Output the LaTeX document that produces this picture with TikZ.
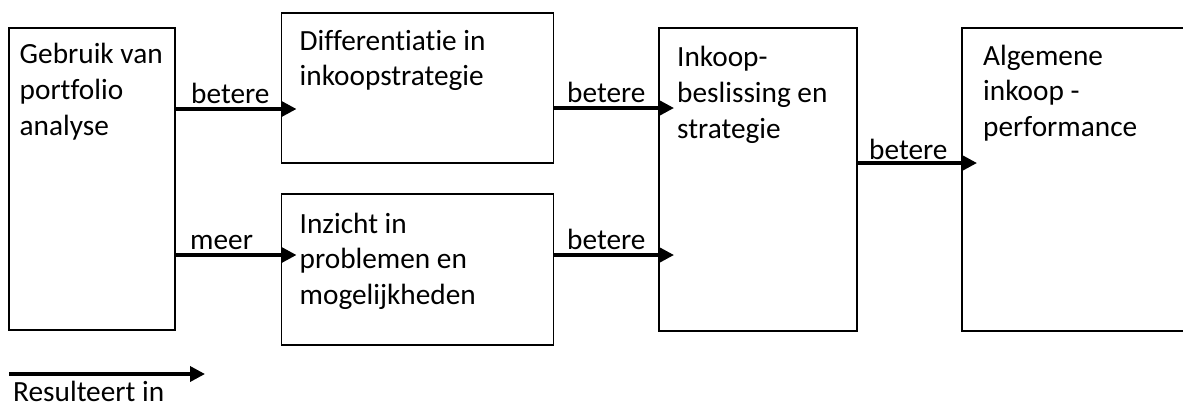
\documentclass[tikz,border=0pt]{standalone}
\usepackage{fontspec}
\setmainfont{Carlito}[Ligatures=NoCommon]
\usetikzlibrary{arrows.meta,calc}
\begin{document}
\begin{tikzpicture}[x=1pt,y=-1pt,
  box/.style={draw, line width=1.5pt, inner sep=0pt, outer sep=0pt, anchor=north west},
  txt/.style={font=\fontsize{29.3}{35.8}\selectfont, align=left, inner sep=0pt, anchor=base west},
  lbl/.style={font=\fontsize{29.3}{35.8}\selectfont, inner sep=0pt, anchor=base west},
  arr/.style={line width=3.5pt, -{Triangle[length=15pt,width=15pt]}}]
\useasboundingbox (0,0) rectangle (1183,405);
% boxes
\node[box, minimum width=166pt, minimum height=302pt] (b1) at (9,28) {};
\node[box, minimum width=272pt, minimum height=150pt] (b2) at (281.5,13) {};
\node[box, minimum width=272pt, minimum height=151pt] (b3) at (281.5,194) {};
\node[box, minimum width=198pt, minimum height=303pt] (b4) at (659,28) {};
\node[box, minimum width=260pt, minimum height=303pt] (b5) at (962,28) {};
% box texts (base anchor = baseline of the last line)
\node[txt] (t1) at ($(b1.north west)+(10.5,107)$) {Gebruik van\\portfolio\\analyse};
\node[txt] (t2) at ($(b2.north west)+(18,72.8)$) {Differentiatie in\\inkoopstrategie};
\node[txt] (t3) at ($(b3.north west)+(18,110.6)$) {Inzicht in\\problemen en\\mogelijkheden};
\node[txt] (t4) at ($(b4.north west)+(18,110.3)$) {Inkoop-\\beslissing en\\strategie};
\node[txt] (t5) at ($(b5.north west)+(21,108.6)$) {Algemene\\inkoop -\\performance};
% arrow end coordinates
\coordinate (e2) at ([xshift=15pt]b2.west);
\coordinate (e3) at ([xshift=15pt]b3.west);
\coordinate (e4) at ([xshift=15pt]b4.west);
\coordinate (e5) at ([xshift=15pt]b5.west);
% arrows
\draw[arr] (b1.east |- 0,109) -- (e2 |- 0,109);
\draw[arr] (b1.east |- 0,255) -- (e3 |- 0,255);
\draw[arr] (b2.east |- 0,108) -- (e4 |- 0,108);
\draw[arr] (b3.east |- 0,255) -- (e4 |- 0,255);
\draw[arr] (b4.east |- 0,163) -- (e5 |- 0,163);
% labels
\node[lbl] (l1) at (191,103) {betere};
\node[lbl] (l2) at (190,249) {meer};
\node[lbl] (l3) at (567,102) {betere};
\node[lbl] (l4) at (567,249) {betere};
\node[lbl] (l5) at (869,159) {betere};
% legend
\coordinate (ls) at (9,374);
\coordinate (le) at (205,374);
\draw[arr] (ls) -- (le);
\node[lbl] (lt) at (13,401) {Resulteert in};
\end{tikzpicture}
\end{document}
